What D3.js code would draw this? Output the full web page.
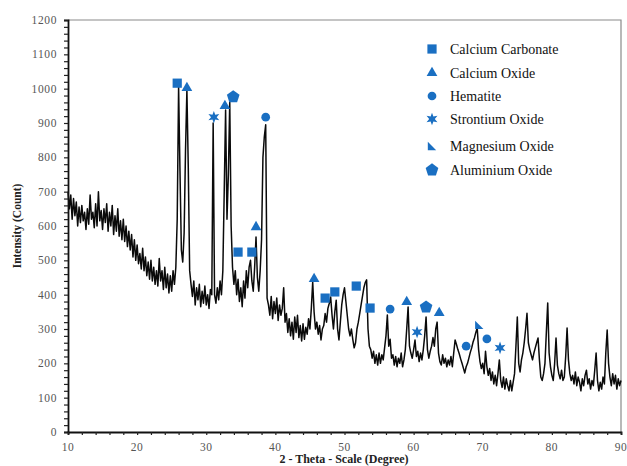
<!DOCTYPE html>
<html>
<head>
<meta charset="utf-8">
<script src="https://cdn.jsdelivr.net/npm/d3@7"></script>
<style>
  body { margin: 0; background: #fff; }
  svg text { font-family: "Liberation Serif", "DejaVu Serif", serif; }
</style>
</head>
<body>
<div id="chart"></div>
<script>
// scan settings (2-theta start and step of the diffractometer)
var scanStart = 10, scanStep = 0.2;

// intensities, one row per degree (x.0 x.2 x.4 x.6 x.8)
var intensity = [
  700, 650, 690, 620, 680,
  630, 670, 600, 655, 610,
  660, 615, 640, 590, 650,
  605, 690, 620, 640, 595,
  665, 600, 700, 615, 645,
  590, 650, 610, 665, 585,
  640, 600, 660, 575, 630,
  585, 650, 570, 615, 560,
  620, 555, 600, 540, 585,
  530, 575, 510, 560, 500,
  545, 490, 520, 475, 535,   // 20
  470, 510, 455, 495, 445,
  500, 440, 480, 430, 470,
  425, 505, 440, 470, 415,
  480, 420, 460, 405, 455,
  410, 470, 430, 480, 620,
  1005, 760, 530, 495, 580,
  820, 996, 770, 470, 430,
  395, 440, 370, 420, 385,
  430, 365, 410, 375, 425,
  370, 400, 360, 415, 400,   // 30
  900, 400, 375, 420, 385,
  440, 400, 470, 700, 938,
  620, 750, 961, 600, 480,
  430, 470, 400, 445, 380,
  420, 365, 440, 390, 470,
  420, 480, 500, 440, 410,
  480, 568, 450, 410, 470,
  560, 800, 860, 895, 390,
  370, 340, 395, 330, 380,
  345, 390, 325, 370, 340,   // 40
  360, 420, 320, 345, 290,
  330, 280, 320, 270, 335,
  290, 340, 275, 310, 265,
  315, 270, 305, 285, 330,
  300, 360, 437, 350, 300,
  320, 285, 310, 268, 300,
  310, 345, 320, 360, 375,
  393, 340, 300, 350, 384,
  300, 268, 320, 370, 400,
  420, 380, 340, 300, 280,   // 50
  300, 270, 245, 260, 300,
  320, 345, 370, 395, 420,
  435, 443, 300, 250, 240,
  215, 235, 200, 225, 195,
  230, 200, 225, 210, 245,
  280, 341, 250, 270, 215,
  225, 195, 220, 190, 215,
  200, 230, 190, 210, 240,
  300, 364, 250, 230, 215,
  240, 268, 220, 235, 205,   // 60
  230, 210, 240, 280, 335,
  240, 215, 235, 250, 275,
  250, 300, 320, 230, 205,
  195, 225, 200, 215, 190,
  210, 195, 220, 190, 230,
  268, 255, 240, 228, 213,
  200, 186, 172, 190, 200,
  216, 232, 245, 262, 274,
  290, 303, 240, 205, 185,
  200, 170, 235, 190, 165,   // 70
  185, 150, 175, 140, 165,
  135, 170, 210, 150, 130,
  160, 125, 155, 135, 120,
  150, 120, 145, 170, 250,
  335, 200, 175, 210, 230,
  260, 300, 346, 260, 240,
  225, 210, 230, 245, 260,
  274, 210, 160, 150, 170,
  200, 290, 376, 230, 190,
  165, 150, 200, 274, 195,   // 80
  170, 155, 180, 150, 160,
  220, 303, 210, 170, 150,
  165, 140, 175, 135, 160,
  145, 120, 155, 135, 165,
  180, 140, 155, 125, 150,
  135, 180, 230, 150, 120,
  145, 125, 160, 140, 230,
  297, 200, 160, 135, 170,
  140, 165, 125, 155, 135,
  150                         // 90
];

// phase labels
var phases = ["Calcium Carbonate", "Calcium Oxide", "Hematite", "Strontium Oxide", "Magnesium Oxide", "Aluminium Oxide"];

// markers placed over the peaks
var markerPhase = [
  "Calcium Carbonate", "Calcium Carbonate", "Calcium Carbonate", "Calcium Carbonate", "Calcium Carbonate", "Calcium Carbonate", "Calcium Carbonate",
  "Calcium Oxide", "Calcium Oxide", "Calcium Oxide", "Calcium Oxide", "Calcium Oxide", "Calcium Oxide",
  "Hematite", "Hematite", "Hematite", "Hematite",
  "Strontium Oxide", "Strontium Oxide", "Strontium Oxide",
  "Magnesium Oxide",
  "Aluminium Oxide", "Aluminium Oxide"
];
var markerTheta = [25.8, 34.6, 36.6, 47.2, 48.6, 51.7, 53.7,
                   27.2, 32.7, 37.2, 45.6, 59.0, 63.7,
                   38.6, 56.6, 67.6, 70.6,
                   31.1, 60.5, 72.5,
                   69.5,
                   33.9, 61.8];
var markerCount = [1016, 524, 524, 390, 408, 425, 361,
                   1002, 950, 597, 446, 379, 347,
                   917, 358, 250, 271,
                   917, 291, 245,
                   312,
                   976, 364];

var xTicks = [10, 20, 30, 40, 50, 60, 70, 80, 90];
var yTicks = [0, 100, 200, 300, 400, 500, 600, 700, 800, 900, 1000, 1100, 1200];

var blue = "#1a6fc2";
var serif = "'Liberation Serif', 'DejaVu Serif', serif";

var pattern = intensity.map(function(v, i) { return { t: scanStart + i * scanStep, v: v }; });
var markers = markerTheta.map(function(t, i) { return { t: t, v: markerCount[i], phase: markerPhase[i] }; });

// custom symbols
var star6 = {
  draw: function(ctx, size) {
    var r = Math.sqrt(size) * 0.75, ri = r * 0.45;
    for (var k = 0; k < 12; k++) {
      var a = -Math.PI / 2 + k * Math.PI / 6;
      var rr = k % 2 ? ri : r;
      if (k === 0) ctx.moveTo(rr * Math.cos(a), rr * Math.sin(a));
      else ctx.lineTo(rr * Math.cos(a), rr * Math.sin(a));
    }
    ctx.closePath();
  }
};
var pentagon = {
  draw: function(ctx, size) {
    var r = Math.sqrt(size) * 0.62;
    for (var k = 0; k < 5; k++) {
      var a = -Math.PI / 2 + k * 2 * Math.PI / 5;
      if (k === 0) ctx.moveTo(r * Math.cos(a), r * Math.sin(a));
      else ctx.lineTo(r * Math.cos(a), r * Math.sin(a));
    }
    ctx.closePath();
  }
};
var rightTri = {
  draw: function(ctx, size) {
    var s = Math.sqrt(size) * 0.5;
    ctx.moveTo(-s, -s);
    ctx.lineTo(s, s);
    ctx.lineTo(-s, s);
    ctx.closePath();
  }
};

var symbolOf = {
  "Calcium Carbonate": [d3.symbolSquare, 85],
  "Calcium Oxide": [d3.symbolTriangle, 50],
  "Hematite": [d3.symbolCircle, 60],
  "Strontium Oxide": [star6, 70],
  "Magnesium Oxide": [rightTri, 70],
  "Aluminium Oxide": [pentagon, 115]
};
function sym(p) { return d3.symbol().type(symbolOf[p][0]).size(symbolOf[p][1])(); }

var W = 627, H = 466;
var svg = d3.select("#chart").append("svg").attr("width", W).attr("height", H);

var x = d3.scaleLinear().domain([10, 90]).range([68, 621]);
var y = d3.scaleLinear().domain([0, 1200]).range([432, 20]);

// frame top and right
svg.append("path")
  .attr("d", "M" + x(10) + "," + y(1200) + "H" + x(90) + "V" + y(0))
  .attr("fill", "none")
  .attr("stroke", "#8a8a8a")
  .attr("stroke-width", 1.2);

// pattern line
svg.append("path")
  .datum(pattern)
  .attr("fill", "none")
  .attr("stroke", "#0a0a0a")
  .attr("stroke-width", 1.5)
  .attr("stroke-linejoin", "round")
  .attr("d", d3.line().x(function(d) { return x(d.t); }).y(function(d) { return y(d.v); }));

// y axis
var yAxis = svg.append("g")
  .attr("transform", "translate(" + x(10) + ",0)")
  .call(d3.axisLeft(y).ticks(60).tickSize(4).tickFormat(""));
yAxis.select(".domain").attr("stroke", "#111").attr("stroke-width", 1.8);
yAxis.selectAll(".tick line").attr("stroke", "#222").attr("stroke-width", 1.2);

svg.append("g").selectAll("text")
  .data(yTicks)
  .join("text")
  .attr("x", 57)
  .attr("y", function(d) { return y(d) + 4; })
  .attr("text-anchor", "end")
  .attr("fill", "#555")
  .style("font-family", serif)
  .style("font-size", "11.5px")
  .style("letter-spacing", "0.6px")
  .text(function(d) { return d; });

// x axis
var xAxis = svg.append("g")
  .attr("transform", "translate(0," + y(0) + ")")
  .call(d3.axisBottom(x).ticks(40).tickSize(3).tickFormat(""));
xAxis.select(".domain").attr("stroke", "#111").attr("stroke-width", 1.8);
xAxis.selectAll(".tick line").attr("stroke", "#222").attr("stroke-width", 1.2);

svg.append("g").selectAll("text")
  .data(xTicks)
  .join("text")
  .attr("x", function(d) { return x(d); })
  .attr("y", 451)
  .attr("text-anchor", "middle")
  .attr("fill", "#555")
  .style("font-family", serif)
  .style("font-size", "11.5px")
  .style("letter-spacing", "0.6px")
  .text(function(d) { return d; });

// axis titles
svg.append("text")
  .attr("x", 344)
  .attr("y", 463)
  .attr("text-anchor", "middle")
  .style("font-family", serif)
  .style("font-size", "12px")
  .style("font-weight", "bold")
  .attr("fill", "#222")
  .text("2 - Theta - Scale (Degree)");

svg.append("text")
  .attr("transform", "translate(21,226) rotate(-90)")
  .attr("text-anchor", "middle")
  .style("font-family", serif)
  .style("font-size", "11.5px")
  .style("font-weight", "bold")
  .attr("fill", "#222")
  .text("Intensity (Count)");

// peak markers
svg.append("g").selectAll("path")
  .data(markers)
  .join("path")
  .attr("transform", function(d) { return "translate(" + x(d.t) + "," + y(d.v) + ")"; })
  .attr("d", function(d) { return sym(d.phase); })
  .attr("fill", blue);

// legend
var legY = [49, 73, 96, 119, 146, 170];
var leg = svg.append("g").selectAll("g")
  .data(phases)
  .join("g")
  .attr("transform", function(d, i) { return "translate(432," + legY[i] + ")"; });
leg.append("path")
  .attr("d", function(d) { return sym(d); })
  .attr("fill", blue);
leg.append("text")
  .attr("x", 18)
  .attr("y", 5)
  .style("font-family", serif)
  .style("font-size", "14px")
  .attr("fill", "#111")
  .text(function(d) { return d; });
</script>
</body>
</html>
